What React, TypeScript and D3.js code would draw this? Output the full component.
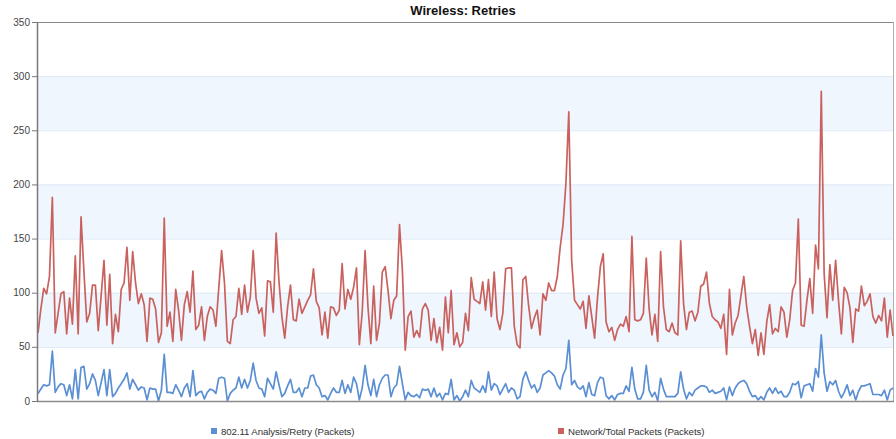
import React from 'react';
import * as d3 from 'd3';

// Wireless: Retries - sampled packet counts, one value per interval
const chartTitle = 'Wireless: Retries';

const retryPackets: number[] = [
  7, 11, 15, 14, 15, 46, 8, 13, 16, 15, 5, 15, 2, 29, 2, 31, 32, 11, 16, 25, 19, 5, 17, 29, 5, 29, 4, 7,
  12, 16, 20, 26, 11, 20, 15, 10, 13, 12, 1, 12, 11, 11, 0, 10, 43, 8, 8, 7, 15, 10, 4, 12, 16, 4, 28, 5, 8, 9,
  2, 8, 11, 10, 7, 21, 22, 21, 0, 7, 10, 12, 22, 12, 20, 12, 19, 35, 19, 12, 11, 4, 21, 16, 11, 27, 15, 4,
  7, 14, 20, 8, 8, 12, 4, 12, 12, 23, 24, 15, 12, 4, 5, 1, 7, 12, 8, 8, 19, 7, 15, 8, 22, 16, 1, 12, 33, 15, 5,
  20, 4, 15, 21, 24, 24, 4, 12, 15, 32, 16, 1, 8, 5, 4, 6, 3, 11, 10, 11, 4, 12, 4, 7, 1, 7, 6, 20,
  1, 5, 0, 4, 10, 4, 19, 12, 10, 8, 14, 8, 27, 10, 16, 14, 6, 11, 16, 8, 12, 10, 2, 4, 20, 27, 19, 12, 15, 8,
  12, 24, 26, 28, 26, 23, 15, 11, 24, 30, 56, 15, 19, 13, 11, 14, 4, 17, 6, 5, 17, 22, 21, 5, 2, 5, 1, 6, 7, 7,
  14, 9, 31, 11, 2, 2, 8, 33, 10, 4, 8, 0, 21, 11, 4, 4, 4, 4, 7, 27, 11, 2, 8, 5, 10, 12, 14, 14, 13, 8,
  10, 7, 8, 9, 12, 1, 13, 5, 12, 16, 18, 19, 16, 9, 4, 5, 1, 4, 1, 8, 12, 7, 12, 7, 9, 4, 4, 8, 16, 15,
  18, 3, 14, 15, 16, 9, 30, 22, 61, 26, 9, 18, 15, 19, 9, 3, 8, 15, 5, 10, 1, 9, 14, 14, 15, 16, 6, 6, 6, 5, 10, 1, 10, 12,
];

const totalPackets: number[] = [
  63, 85, 104, 99, 115, 188, 63, 81, 99, 101, 62, 95, 71, 134, 62, 170, 120, 73, 81, 107, 107, 65, 97, 130, 70, 117, 53, 80,
  64, 103, 109, 142, 93, 138, 109, 90, 99, 89, 55, 95, 94, 85, 54, 63, 169, 69, 82, 55, 103, 84, 56, 89, 101, 82, 120, 66, 70, 87,
  56, 78, 87, 84, 69, 104, 139, 109, 55, 53, 75, 78, 104, 80, 107, 82, 96, 139, 95, 81, 86, 60, 111, 110, 82, 155, 110, 78,
  58, 87, 107, 75, 74, 94, 81, 87, 93, 98, 122, 92, 86, 61, 82, 58, 87, 86, 79, 84, 127, 85, 103, 94, 105, 123, 52, 82, 139, 87, 53,
  106, 56, 72, 119, 124, 102, 76, 93, 97, 163, 121, 47, 78, 83, 59, 65, 59, 85, 90, 84, 56, 76, 54, 68, 47, 96, 63, 102,
  52, 63, 50, 54, 81, 65, 114, 94, 92, 90, 110, 84, 112, 78, 119, 76, 66, 81, 122, 123, 123, 69, 52, 49, 112, 115, 88, 67, 77, 84,
  61, 99, 93, 109, 102, 102, 115, 142, 163, 201, 267, 130, 93, 89, 85, 92, 67, 97, 78, 58, 95, 124, 136, 73, 64, 68, 56, 66, 71, 69,
  78, 64, 152, 75, 74, 75, 81, 132, 85, 61, 80, 55, 138, 87, 66, 64, 72, 63, 61, 148, 90, 66, 82, 83, 74, 82, 106, 108, 119, 90,
  78, 75, 73, 67, 80, 43, 103, 61, 72, 79, 97, 115, 87, 69, 53, 66, 42, 63, 43, 73, 89, 62, 67, 64, 87, 82, 59, 75, 102, 109,
  168, 70, 69, 93, 113, 81, 144, 122, 286, 118, 77, 126, 93, 130, 93, 62, 105, 100, 86, 54, 85, 83, 106, 88, 92, 99, 78, 72, 79, 74, 95, 59, 84, 60,
];

const yTicks = [0, 50, 100, 150, 200, 250, 300, 350];
const bandRanges: [number, number][] = [[50, 100], [150, 200], [250, 300]];
const seriesNames = ['802.11 Analysis/Retry (Packets)', 'Network/Total Packets (Packets)'];
const seriesColors = ['#5b8fd4', '#c9625e'];

const width = 896;
const height = 439;
const margin = { top: 22, right: 3, bottom: 38, left: 38 };
const font = 'Arial, "Liberation Sans", sans-serif';

const App: React.FC = () => {
  const n = Math.max(retryPackets.length, totalPackets.length);

  const x = d3.scaleLinear()
    .domain([0, n - 1])
    .range([margin.left, width - margin.right]);

  const y = d3.scaleLinear()
    .domain([0, 350])
    .range([height - margin.bottom, margin.top]);

  const line = d3.line<number>()
    .x((_, i) => x(i))
    .y(d => y(d));

  const plotLeft = margin.left;
  const plotRight = width - margin.right;

  return (
    <svg
      width={width}
      height={height}
      style={{ position: 'absolute', left: 0, top: 0, display: 'block', background: '#fff' }}
    >
      {/* alternating bands */}
      {bandRanges.map(([lo, hi]) => (
        <rect
          key={lo}
          x={plotLeft}
          y={y(hi)}
          width={plotRight - plotLeft}
          height={y(lo) - y(hi)}
          fill="#eff6fe"
        />
      ))}

      {/* gridlines */}
      {yTicks.slice(1, -1).map(t => (
        <line key={t} x1={plotLeft} x2={plotRight} y1={y(t) + 0.5} y2={y(t) + 0.5} stroke="#dde9f7" />
      ))}

      {/* frame */}
      <line x1={plotLeft} x2={plotRight} y1={y(350) + 0.5} y2={y(350) + 0.5} stroke="#8a8a8a" />
      <line x1={plotRight + 0.5} x2={plotRight + 0.5} y1={y(350)} y2={y(0)} stroke="#b0b0b0" />

      {/* series */}
      <path d={line(totalPackets) ?? ''} fill="none" stroke={seriesColors[1]} strokeWidth={1.7} strokeLinejoin="round" />
      <path d={line(retryPackets) ?? ''} fill="none" stroke={seriesColors[0]} strokeWidth={1.7} strokeLinejoin="round" />

      {/* axes */}
      <line x1={plotLeft - 0.5} x2={plotLeft - 0.5} y1={y(350)} y2={y(0) + 1} stroke="#7a7a7a" strokeWidth={1.5} />
      <line x1={plotLeft - 1} x2={plotRight + 1} y1={y(0) + 0.5} y2={y(0) + 0.5} stroke="#8a8a8a" strokeWidth={1.5} />
      {yTicks.map(t => (
        <g key={t}>
          <line x1={plotLeft - 6} x2={plotLeft} y1={y(t) + 0.5} y2={y(t) + 0.5} stroke="#7a7a7a" />
          <text
            x={plotLeft - 8}
            y={y(t) + 3.5}
            textAnchor="end"
            fontFamily={font}
            fontSize={10}
            fill="#444"
          >
            {t}
          </text>
        </g>
      ))}

      {/* title */}
      <text x={463} y={15} textAnchor="middle" fontFamily={font} fontSize={13} fontWeight="bold" fill="#111">
        {chartTitle}
      </text>

      {/* legend */}
      {seriesNames.map((name, i) => {
        const lx = i === 0 ? 211 : 558;
        return (
          <g key={name}>
            <rect x={lx} y={428} width={6} height={6} fill={seriesColors[i]} />
            <text x={lx + 10} y={435} fontFamily={font} fontSize={9.7} letterSpacing={-0.1} fill="#333">
              {name}
            </text>
          </g>
        );
      })}
    </svg>
  );
};

export default App;
